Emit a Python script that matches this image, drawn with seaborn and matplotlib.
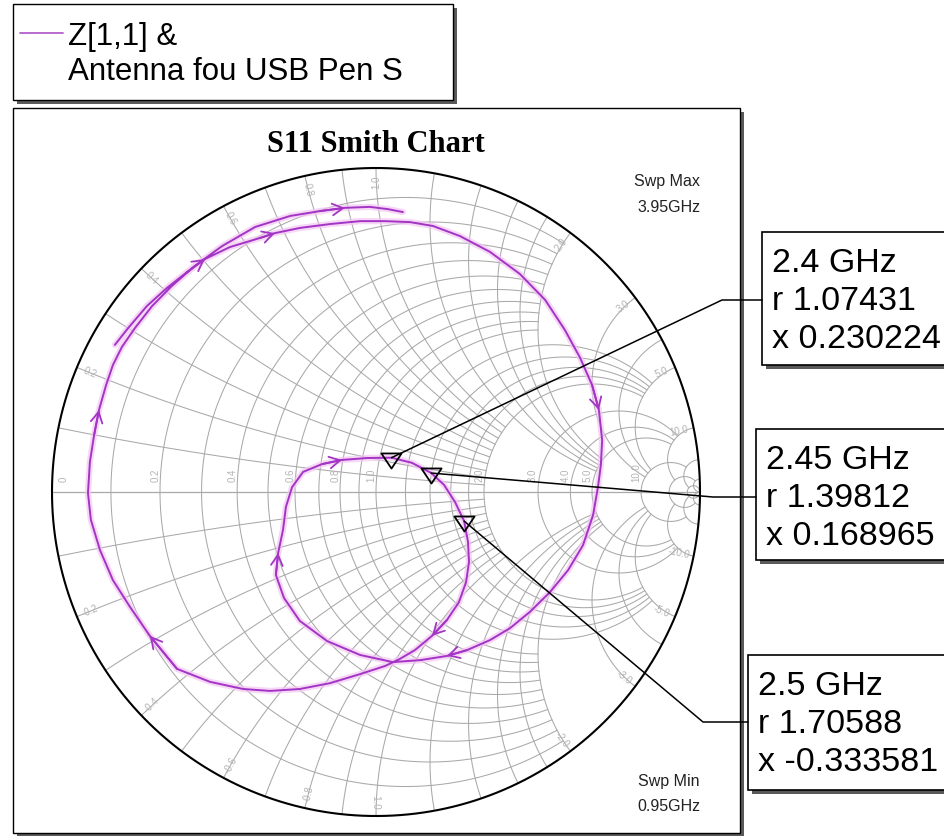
import numpy as np
import matplotlib
matplotlib.use("Agg")
import matplotlib.pyplot as plt
import seaborn as sns
from matplotlib.patches import Rectangle
from matplotlib.path import Path

# ---------------- data ----------------
title = "S11 Smith Chart"
trace_label = ["Z[1,1] &", "Antenna fou USB Pen S"]
sweep_max = ["Swp Max", "3.95GHz"]
sweep_min = ["Swp Min", "0.95GHz"]

# S11 (reflection coefficient) real / imaginary parts along the sweep 0.95 -> 3.95 GHz
s11_re = [-0.806, -0.765, -0.707, -0.645, -0.583, -0.528, -0.451, -0.358, -0.312, -0.235,
          -0.142, -0.049, 0.028, 0.105, 0.176, 0.259, 0.352, 0.444, 0.522, 0.583,
          0.630, 0.667, 0.688, 0.698, 0.694, 0.685, 0.670, 0.639, 0.593, 0.537,
          0.475, 0.414, 0.352, 0.281, 0.219, 0.136, 0.052, -0.049, -0.151, -0.235,
          -0.284, -0.309, -0.302, -0.287, -0.278, -0.259, -0.225, -0.167, -0.105, -0.025,
          0.048, 0.111, 0.170, 0.210, 0.244, 0.272, 0.284, 0.287, 0.278, 0.256,
          0.219, 0.173, 0.120, 0.074, 0.028, -0.049, -0.142, -0.235, -0.327, -0.410,
          -0.512, -0.614, -0.698, -0.759, -0.812, -0.852, -0.880, -0.889, -0.883, -0.870,
          -0.855, -0.833, -0.812, -0.784, -0.744, -0.691, -0.630, -0.559, -0.475, -0.373,
          -0.265, -0.173, -0.096, -0.019, 0.037, 0.083]
s11_im = [0.454, 0.506, 0.574, 0.630, 0.679, 0.719, 0.756, 0.784, 0.799, 0.815,
          0.827, 0.836, 0.836, 0.833, 0.821, 0.790, 0.741, 0.673, 0.593, 0.500,
          0.414, 0.330, 0.253, 0.160, 0.083, 0.015, -0.071, -0.164, -0.241, -0.309,
          -0.370, -0.420, -0.457, -0.488, -0.506, -0.519, -0.525, -0.503, -0.460, -0.398,
          -0.327, -0.256, -0.188, -0.117, -0.046, 0.015, 0.062, 0.086, 0.099, 0.105,
          0.106, 0.090, 0.059, 0.022, -0.031, -0.090, -0.154, -0.216, -0.278, -0.340,
          -0.395, -0.444, -0.488, -0.515, -0.537, -0.562, -0.590, -0.608, -0.614, -0.608,
          -0.586, -0.546, -0.444, -0.355, -0.272, -0.179, -0.086, -0.003, 0.093, 0.176,
          0.253, 0.330, 0.392, 0.448, 0.506, 0.574, 0.636, 0.698, 0.759, 0.818,
          0.852, 0.867, 0.877, 0.880, 0.873, 0.864]
arrow_idx = [5, 8, 22, 34, 42, 48, 61, 72, 80, 92]

# markers (normalised impedance)
marker_freq = ["2.4 GHz", "2.45 GHz", "2.5 GHz"]
marker_r = [1.07431, 1.39812, 1.70588]
marker_x = [0.230224, 0.168965, -0.333581]
marker_r_txt = ["r 1.07431", "r 1.39812", "r 1.70588"]
marker_x_txt = ["x 0.230224", "x 0.168965", "x -0.333581"]

# Smith grid values
grid_vals = [0.1, 0.2, 0.3, 0.4, 0.5, 0.6, 0.7, 0.8, 0.9, 1.0,
             1.2, 1.4, 1.6, 1.8, 2.0, 3.0, 4.0, 5.0, 10.0, 20.0, 50.0]
grid_reach = [2] * 10 + [5] * 5 + [10] * 3 + [20, 50, np.inf]
x_label_vals = [0.2, 0.4, 0.6, 0.8, 1.0, 2.0, 3.0, 5.0, 10.0]
r_label_vals = [0.0, 0.2, 0.4, 0.6, 0.8, 1.0, 2.0, 3.0, 4.0, 5.0, 10.0]

# ---------------- style ----------------
sns.set_style("white")
plt.rcParams["font.family"] = ["Liberation Sans", "DejaVu Sans"]
plt.rcParams["text.color"] = "black"

W, H = 945, 836
fig = plt.figure(figsize=(W / 100, H / 100), dpi=100)
fig.patch.set_facecolor("white")

# background (frames, legend)
bg = fig.add_axes([0, 0, 1, 1], zorder=0)
bg.set_xlim(0, W); bg.set_ylim(H, 0); bg.axis("off")

# Smith chart axes: centre (376, 492) px, radius 324 px
CX, CY, R = 376, 492, 324
k = 1.05
ax = fig.add_axes([(CX - R * k) / W, (H - CY - R * k) / H, 2 * R * k / W, 2 * R * k / H], zorder=1)
ax.patch.set_alpha(0)

fg = fig.add_axes([0, 0, 1, 1], zorder=2)
fg.set_xlim(0, W); fg.set_ylim(H, 0); fg.axis("off"); fg.patch.set_alpha(0)

shadow = "#5a5a5a"
# plot frame
bg.add_patch(Rectangle((17, 112), 727, 726, fc=shadow, ec="none"))
bg.add_patch(Rectangle((13, 108), 727, 725, fc="white", ec="black", lw=1.0))
# legend frame
bg.add_patch(Rectangle((17, 8), 440, 96, fc=shadow, ec="none"))
bg.add_patch(Rectangle((13, 4), 440, 96, fc="white", ec="black", lw=1.0))
bg.plot([20, 63], [33, 33], color="#b35fcc", lw=1.3)
bg.text(68, 45, trace_label[0], fontsize=22.5, va="baseline", ha="left", color="black")
bg.text(68, 80, trace_label[1], fontsize=22.5, va="baseline", ha="left", color="black")

bg.text(376, 152, title, ha="center", va="baseline", fontsize=22, fontweight="bold",
        color="black", family=["Liberation Serif", "DejaVu Serif"])
bg.text(700, 186, sweep_max[0], ha="right", va="baseline", fontsize=11.5, color="#222222")
bg.text(700, 212, sweep_max[1], ha="right", va="baseline", fontsize=11.5, color="#222222")
bg.text(700, 786, sweep_min[0], ha="right", va="baseline", fontsize=11.5, color="#222222")
bg.text(700, 811, sweep_min[1], ha="right", va="baseline", fontsize=11.5, color="#222222")

# ---------------- Smith grid ----------------
gcol = "#a9a9a9"


def to_gamma(z):
    return (z - 1) / (z + 1)


for v, reach in zip(grid_vals, grid_reach):
    t = np.linspace(-np.arctan(reach), np.arctan(reach), 500)
    g = to_gamma(v + 1j * np.tan(t))
    ax.plot(g.real, g.imag, color=gcol, lw=0.75, zorder=1)
    t2 = np.linspace(0, np.arctan(reach), 400)
    for sgn in (1, -1):
        g2 = to_gamma(np.tan(t2) + 1j * sgn * v)
        ax.plot(g2.real, g2.imag, color=gcol, lw=0.75, zorder=1)

ax.plot([-1, 1], [0, 0], color=gcol, lw=0.9, zorder=1)
th = np.linspace(0, 2 * np.pi, 800)
ax.plot(np.cos(th), np.sin(th), color="black", lw=1.5, zorder=3)

lcol = "#b4b4b4"
for v in x_label_vals:
    for sgn in (1, -1):
        g = to_gamma(1j * sgn * v)
        ang = np.degrees(np.angle(g))
        rot = ang
        if rot > 90:
            rot -= 180
        if rot < -90:
            rot += 180
        txt = ("-" if sgn < 0 else "") + f"{v:.1f}"
        ax.text(0.955 * g.real, 0.955 * g.imag, txt, rotation=rot, ha="center", va="center",
                fontsize=7, color=lcol, rotation_mode="anchor", zorder=2)
for v in r_label_vals:
    g = to_gamma(v)
    gx = max(g - 0.015, -0.965)
    ax.text(gx, 0.03, f"{v:.1f}" if v > 0 else "0", rotation=90, ha="center", va="bottom",
            fontsize=7, color=lcol, zorder=2)

# ---------------- trace ----------------
sns.lineplot(x=s11_re, y=s11_im, sort=False, estimator=None, ax=ax, color="#f3c6f3",
             linewidth=4.5, alpha=0.7, legend=False, zorder=4)
sns.lineplot(x=s11_re, y=s11_im, sort=False, estimator=None, ax=ax, color="#a334c6",
             linewidth=1.4, legend=False, zorder=5)
for i in arrow_idx:
    ax.annotate("", xy=(s11_re[i], s11_im[i]), xytext=(s11_re[i - 1], s11_im[i - 1]),
                arrowprops=dict(arrowstyle="->,head_length=0.55,head_width=0.3", color="#a334c6",
                                lw=1.3, shrinkA=0, shrinkB=0, mutation_scale=14), zorder=6)

mz = np.array(marker_r) + 1j * np.array(marker_x)
mg = to_gamma(mz)
tri = Path([(-10, 5), (10, 5), (0, -10), (-10, 5)],
           [Path.MOVETO, Path.LINETO, Path.LINETO, Path.CLOSEPOLY])
ax.plot(mg.real, mg.imag, ls="none", marker=tri, ms=14.5, mfc="none", mec="black", mew=1.3, zorder=7)

ax.set_xlim(-k, k); ax.set_ylim(-k, k); ax.axis("off")

# ---------------- marker call-outs ----------------
kinks = [(722, 300), (713, 497), (703, 722)]
box_left = [762, 756, 748]
box_top = [232, 429, 655]
box_h = [133, 131, 135]
to_px = fg.transData.inverted()
for j in range(3):
    mx, my = to_px.transform(ax.transData.transform((mg[j].real, mg[j].imag)))
    kx, ky = kinks[j]
    fg.plot([mx, kx, box_left[j]], [my, ky, ky], color="black", lw=1.1)
    L, T, h = box_left[j], box_top[j], box_h[j]
    fg.add_patch(Rectangle((L + 4, T + 4), W - L + 20, h, fc=shadow, ec="none"))
    fg.add_patch(Rectangle((L, T), W - L + 20, h, fc="white", ec="black", lw=1.2))
    for line, txt in enumerate([marker_freq[j], marker_r_txt[j], marker_x_txt[j]]):
        fg.text(L + 10, T + 40 + 38 * line, txt, fontsize=24.5, va="baseline", ha="left", color="black")

fig.savefig("out.png", dpi=100, facecolor="white")
